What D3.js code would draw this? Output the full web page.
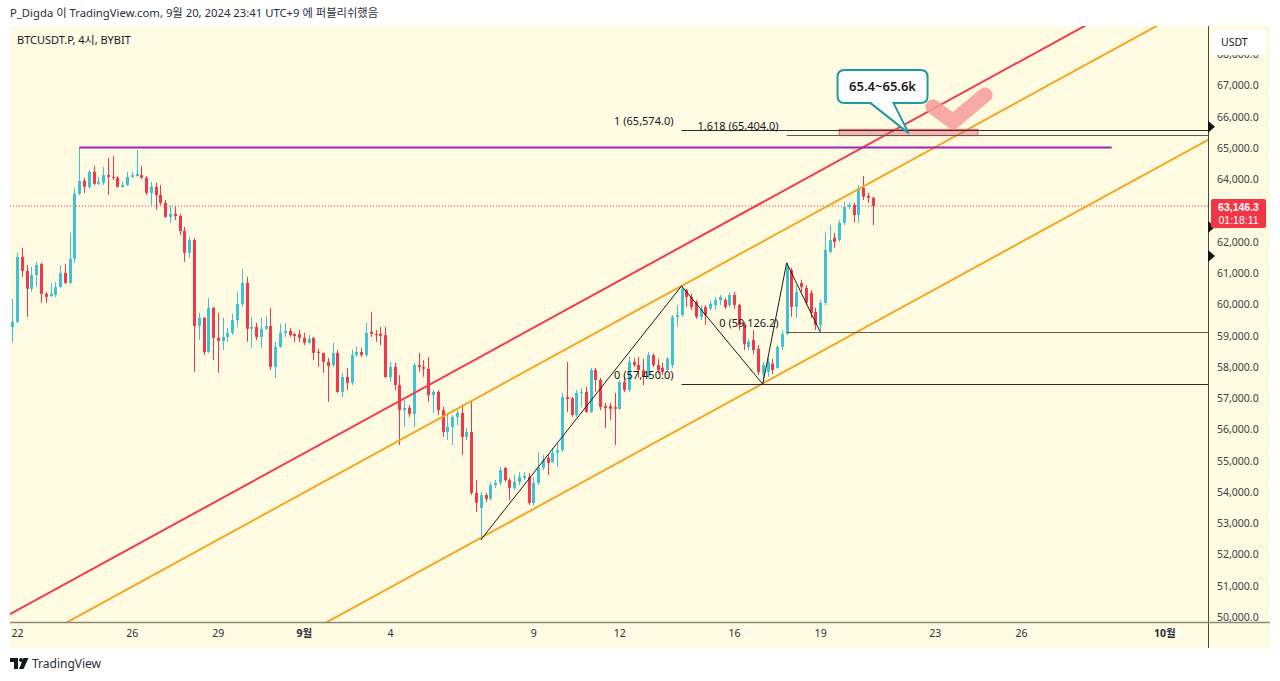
<!DOCTYPE html>
<html><head><meta charset="utf-8">
<script src="https://cdn.jsdelivr.net/npm/d3@7"></script>
<style>
html,body{margin:0;padding:0;background:#fff;}
svg{display:block;font-family:"Noto Sans","Noto Sans CJK KR",sans-serif;}
</style></head><body>
<svg id="c" width="1280" height="681"></svg>
<script>
// ---------- data ----------
const startTime = "2024-08-21T21:00:00Z"; // first 4h candle (KST shown as UTC)
const opens = [59280,59440,61520,61070,60500,60940,61290,60340,60270,60300,60560,61010,60690,61460,63540,63950,63760,64240,63860,63890,
64140,64080,64050,63760,63820,64080,64110,64140,64050,63570,63760,63500,63250,62800,62900,62830,62350,61650,62060,59310,
59570,58480,59890,58930,58830,58960,59090,59500,60020,60690,59220,59280,58960,59220,59310,58000,58640,59090,59150,59050,
59050,58930,58770,58930,58480,58450,58160,58060,58450,57200,57680,57490,58380,58480,58380,59120,59060,59050,59020,57680,
58000,57420,56620,56690,56500,58060,58000,57940,57100,57200,56620,55920,56080,56400,56530,55760,55920,53970,53490,53900,
53780,54220,54290,54770,54380,54130,54320,54450,54480,53650,54290,54770,55090,54960,55250,55340,57040,57000,56460,57170,
57200,56560,57900,57580,56750,56750,56720,56660,57520,57260,58160,58060,57900,57680,58380,58060,57970,57900,58060,59600,
59660,60460,60240,60080,59600,59920,59860,59980,60140,60140,59980,60300,59980,59380,58640,58860,58580,57780,57840,58100,
57970,58640,59060,61100,59920,60690,60530,60370,59760,59340,60050,61680,62130,62060,62610,63120,63180,62860,63730,63470,63410];
const highs = [60180,61650,61810,61260,61200,61360,61330,60400,60690,60720,61260,61300,62290,63730,65020,64050,64300,64430,64080,64400,
64690,64750,64110,63920,64240,64240,64940,64430,64110,63920,63890,63820,63340,63150,63120,62900,62480,62160,62130,59730,
59600,60210,59920,59730,59570,59250,59700,60400,61140,60880,59600,59410,59570,59630,59890,58800,59380,59410,59250,59090,
59180,59090,59020,58960,58580,58450,58290,58770,58540,57810,57970,58540,58640,58610,59410,59760,59180,59280,59280,58160,
58130,57740,56940,56780,58130,58450,58220,58320,57260,57260,56720,56460,56460,56620,56720,56050,56880,54380,54000,53970,
54320,54380,54800,54800,54450,54540,54640,54640,54610,54480,55280,55180,55180,55410,55570,57170,58160,57040,57260,57330,
57360,57970,57970,57650,56850,56850,57170,57580,57680,58320,58290,58320,58260,58480,58420,58260,58130,58320,59660,59980,
60590,60500,60340,60140,59980,59980,60110,60240,60300,60210,60370,60400,60020,59440,58900,59180,58700,58160,58290,58260,
58700,59180,61330,61170,60620,60780,60620,60460,59890,60140,62290,62540,62290,62700,63280,63250,63250,63820,64110,63570,63440];
const lows = [58770,59410,60880,59600,60400,60560,60050,60050,60240,60240,60530,60660,60660,61330,63500,63570,63700,63820,63820,63820,
63500,63980,63730,63730,63790,64050,64080,64020,63500,63180,63020,63180,62770,62610,62700,62220,61360,61490,57840,58860,
58380,58450,58220,57810,58540,58800,59020,59280,59920,58800,58610,58860,58610,59180,57900,57650,58610,58960,58960,58800,
58800,58700,58740,58220,58000,57810,56880,58000,57170,57040,57260,57420,58320,58320,58320,58960,58800,58700,57650,57520,
57260,55500,56080,56400,56080,57840,57680,56880,56530,56460,55760,55660,55500,56140,55180,55660,53900,53360,52470,53680,
53740,54130,54220,54320,53740,54060,54220,54380,53580,53580,54220,54700,54540,54930,54800,55280,56560,56400,56400,56720,
56530,56530,57200,56620,56050,56300,55500,56620,57200,57200,58000,57650,57420,57650,58000,57780,57740,57840,57970,59280,
59600,59920,59820,59540,59500,59340,59820,59820,59980,59860,59920,59860,59180,58540,58540,58420,57740,57450,57680,57780,
57940,58540,59020,59600,59570,60400,59980,59570,59180,59126,59980,61650,61810,62000,62540,63060,62610,62610,63340,63250,62540];
const closes = [59440,61520,61070,60500,60940,61260,60340,60240,60340,60560,61010,60690,61460,63540,63950,63760,64240,63860,63920,64140,
64080,64050,63760,63820,64080,64140,64180,64050,63570,63760,63500,63250,62800,62900,62830,62350,61650,62060,59310,59570,
58480,59890,58930,58830,58960,59090,59500,60020,60690,59220,59280,58960,59220,59310,58000,58640,59090,59150,59020,58990,
58930,58770,58900,58450,58450,58160,58030,58450,57200,57680,57490,58380,58480,58380,59090,59060,59020,58990,57680,58000,
57420,56620,56690,56500,58060,58000,57940,57100,57200,56620,55920,56080,56400,56530,55760,55920,53970,53650,53900,53780,
54220,54290,54700,54380,54130,54320,54480,54510,53650,54290,54770,55020,54930,55250,55340,57040,56980,56460,57170,57200,
56560,57900,57580,56720,56690,56660,56660,57520,57260,58160,58060,57900,57680,58380,58060,57900,57840,58260,59600,59660,
60500,60240,59920,59600,59860,59660,60020,60140,60240,59920,60300,59980,59340,58740,58800,58540,57840,58060,58160,57900,
58640,59060,61200,59920,60400,60560,60050,59730,59340,60050,61740,62060,62000,62610,63120,63180,62860,63730,63440,63410,63146.3];

const lastPrice = 63146.3;
const countdown = "01:18:11";
const priceTicks = d3.range(50000, 68001, 1000);
const xTickDates = ["2024-08-22","2024-08-26","2024-08-29","2024-09-01","2024-09-04","2024-09-09","2024-09-12","2024-09-16","2024-09-19","2024-09-23","2024-09-26","2024-10-01"];
const xTickLabels = ["22","26","29","9월","4","9","12","16","19","23","26","10월"];
const boldTicks = ["9월","10월"];

// drawings, as [candle index, price]
const redLine = [[0, 50130], [180, 65196]];
const orangeUpper = [[98, 57075], [140, 60590]];
const orangeLower = [[98, 52530], [157, 57468]];
const purpleLine = [[14, 65020], [230, 65020]];
const fib1 = [[98, 52466], [140, 60590], [157, 57450]];
const fib1Levels = [[0, "0 (57,450.0)"], [1, "1 (65,574.0)"]];
const fib2 = [[157, 57450], [162, 61330], [169, 59126.2]];
const fib2Levels = [[0, "0 (59,126.2)"], [1.618, "1.618 (65,404.0)"]];
const targetBox = [[173, 65400], [202, 65600]];
const calloutTip = [187.5, 65480];
const calloutText = "65.4~65.6k";
const checkMark = [[192.6, 66320], [196.8, 65840], [203.5, 66700]];
const scaleMarks = [65680, 62480, 61550];

const headerText = "P_Digda 이 TradingView.com, 9월 20, 2024 23:41 UTC+9 에 퍼블리쉬했음";
const symbolText = "BTCUSDT.P, 4시, BYBIT";

// ---------- layout ----------
const pane = {x0: 10, y0: 26, x1: 1208, y1: 622};
const H4 = 4 * 3600 * 1000;
const t0 = new Date(startTime);
const tAt = i => new Date(t0.getTime() + i * H4);
const n = closes.length;

const x = d3.scaleUtc().domain([tAt(0), tAt(n - 1)]).range([12.3, 872.7]);
const y = d3.scaleLinear().domain([50000, 67000]).range([617, 85.6]);
const X = i => x(tAt(i));

const svg = d3.select("#c");
const UP = "#3ec3d5", DOWN = "#f03a4b";

// backgrounds
svg.append("rect").attr("x", 0).attr("y", 0).attr("width", 1280).attr("height", 681).attr("fill", "#fff");
svg.append("rect").attr("x", pane.x0).attr("y", pane.y0).attr("width", 1270 - pane.x0).attr("height", 648 - pane.y0).attr("fill", "#fffbe2");

svg.append("defs").append("clipPath").attr("id", "pc")
  .append("rect").attr("x", pane.x0).attr("y", pane.y0).attr("width", pane.x1 - pane.x0).attr("height", pane.y1 - pane.y0);

// header
svg.append("text").attr("x", 10).attr("y", 17).attr("font-size", 11.3).attr("fill", "#2a2e39").text(headerText);

const g = svg.append("g").attr("clip-path", "url(#pc)");

// last price dotted line
g.append("line").attr("x1", pane.x0).attr("x2", pane.x1).attr("y1", y(lastPrice)).attr("y2", y(lastPrice))
  .attr("stroke", DOWN).attr("stroke-width", 1).attr("stroke-dasharray", "1,2");

// candles
const idx = d3.range(n);
const cg = g.append("g");
cg.selectAll("line.w").data(idx).join("line")
  .attr("x1", i => Math.round(X(i)) + 0.5).attr("x2", i => Math.round(X(i)) + 0.5)
  .attr("y1", i => y(highs[i])).attr("y2", i => y(lows[i]))
  .attr("stroke", i => closes[i] >= opens[i] ? UP : DOWN).attr("stroke-width", 1);
cg.selectAll("rect.b").data(idx).join("rect")
  .attr("x", i => Math.round(X(i)) - 1).attr("width", 3)
  .attr("y", i => y(Math.max(opens[i], closes[i])))
  .attr("height", i => Math.max(1, Math.abs(y(opens[i]) - y(closes[i]))))
  .attr("fill", i => closes[i] >= opens[i] ? UP : DOWN);

// extended trend lines
function extLine(pts, color, w) {
  const [[i1, p1], [i2, p2]] = pts;
  const s = (p2 - p1) / (i2 - i1);
  const a = -40, b = 320;
  g.append("line").attr("x1", X(a)).attr("y1", y(p1 + (a - i1) * s))
    .attr("x2", X(b)).attr("y2", y(p1 + (b - i1) * s))
    .attr("stroke", color).attr("stroke-width", w);
}
extLine(redLine, "#ee3d4e", 2);
extLine(orangeUpper, "#f5a623", 2);
extLine(orangeLower, "#f5a623", 2);

// purple horizontal
g.append("line").attr("x1", X(purpleLine[0][0])).attr("x2", X(purpleLine[1][0]))
  .attr("y1", y(purpleLine[0][1])).attr("y2", y(purpleLine[1][1]))
  .attr("stroke", "#9c27b0").attr("stroke-width", 2);

// target box
g.append("rect").attr("x", X(targetBox[0][0])).attr("y", y(targetBox[1][1]))
  .attr("width", X(targetBox[1][0]) - X(targetBox[0][0]))
  .attr("height", y(targetBox[0][1]) - y(targetBox[1][1]))
  .attr("fill", "rgba(242,80,95,0.42)").attr("stroke", "#e4606c").attr("stroke-width", 1);

// fib extensions
function fib(pts, levels, color) {
  const line = d3.line().x(d => X(d[0])).y(d => y(d[1]));
  g.append("path").attr("d", line(pts)).attr("fill", "none").attr("stroke", "#1b1b1b").attr("stroke-width", 1);
  const diff = pts[1][1] - pts[0][1];
  const xs = X(pts[1][0]);
  levels.forEach(([lv, label]) => {
    const yy = Math.round(y(pts[2][1] + lv * diff)) + 0.5;
    g.append("line").attr("x1", xs).attr("x2", pane.x1).attr("y1", yy).attr("y2", yy)
      .attr("stroke", color).attr("stroke-width", 1);
    g.append("text").attr("x", xs - 8).attr("y", yy - 6).attr("text-anchor", "end")
      .attr("font-size", 11).attr("fill", "#131722").text(label);
  });
}
fib(fib1, fib1Levels, "#2b2b2b");
fib(fib2, fib2Levels, "#5a5a50");

// check mark
g.append("path").attr("d", d3.line().x(d => X(d[0])).y(d => y(d[1]))(checkMark))
  .attr("fill", "none").attr("stroke", "#f59a9a").attr("stroke-opacity", 0.85)
  .attr("stroke-width", 15).attr("stroke-linecap", "round").attr("stroke-linejoin", "round");

// callout
{
  const tx = X(calloutTip[0]), ty = y(calloutTip[1]);
  const L = tx - 71, R = tx + 19, T = ty - 63, B = ty - 30, r = 7;
  const tl = tx - 38, tr = tx - 15;
  const d = `M${L + r},${T} H${R - r} Q${R},${T} ${R},${T + r} V${B - r} Q${R},${B} ${R - r},${B} H${tr} L${tx},${ty} L${tl},${B} H${L + r} Q${L},${B} ${L},${B - r} V${T + r} Q${L},${T} ${L + r},${T} Z`;
  g.append("path").attr("d", d).attr("fill", "#fff").attr("stroke", "#1f9aa3").attr("stroke-width", 2);
  g.append("text").attr("x", (L + R) / 2).attr("y", (T + B) / 2 + 4.5).attr("text-anchor", "middle")
    .attr("font-size", 13).attr("font-weight", 600).attr("fill", "#1a1a1a").text(calloutText);
}

// symbol label
svg.append("text").attr("x", 17).attr("y", 44).attr("font-size", 11).attr("fill", "#131722").text(symbolText);

// pane borders
svg.append("line").attr("x1", pane.x1 + 0.5).attr("x2", pane.x1 + 0.5).attr("y1", pane.y0).attr("y2", 648)
  .attr("stroke", "#4a4a40").attr("stroke-width", 1);
svg.append("line").attr("x1", pane.x0).attr("x2", 1270).attr("y1", pane.y1 + 0.5).attr("y2", pane.y1 + 0.5)
  .attr("stroke", "#8a8a78").attr("stroke-width", 1.5);

// price axis (the tick hidden behind the last-price label is not shown, as in the original)
const visibleTicks = priceTicks.filter(p => Math.abs(y(p) - (y(lastPrice) + 7.5)) > 16);
const ya = svg.append("g").attr("transform", `translate(${pane.x1 + 1},0)`)
  .call(d3.axisRight(y).tickValues(visibleTicks).tickFormat(d3.format(",.1f")).tickSize(0).tickPadding(8));
ya.select(".domain").remove();
ya.selectAll("text").attr("font-size", 10.5).attr("fill", "#3a3e48").attr("font-family", "'Noto Sans',sans-serif");

// scale marks
scaleMarks.forEach(p => {
  const yy = y(p);
  svg.append("path").attr("d", `M${pane.x1},${yy - 6} L${pane.x1 + 7},${yy} L${pane.x1},${yy + 6} Z`).attr("fill", "#131313");
});

// last price label
{
  const yy = y(lastPrice);
  svg.append("rect").attr("x", 1211).attr("y", yy - 7).attr("width", 55).attr("height", 29).attr("rx", 2).attr("fill", "#f23645");
  svg.append("text").attr("x", 1238.5).attr("y", yy + 4.5).attr("text-anchor", "middle").attr("font-size", 10.5)
    .attr("font-family", "'Liberation Sans',sans-serif").attr("font-weight", 700).attr("fill", "#fff").text(d3.format(",.1f")(lastPrice));
  svg.append("text").attr("x", 1238.5).attr("y", yy + 17.5).attr("text-anchor", "middle").attr("font-size", 10.5)
    .attr("font-family", "'Liberation Sans',sans-serif").attr("fill", "#fff").text(countdown);
}

// USDT box
svg.append("rect").attr("x", 1212).attr("y", 30).attr("width", 54).attr("height", 25).attr("rx", 4).attr("fill", "#fff");
svg.append("text").attr("x", 1221).attr("y", 46).attr("font-size", 10.5).attr("fill", "#131722").text("USDT");

// time axis
const tickTimes = xTickDates.map(d => new Date(d + "T01:00:00Z"));
const xa = svg.append("g").attr("transform", `translate(0,${pane.y1})`)
  .call(d3.axisBottom(x).tickValues(tickTimes).tickSize(0).tickPadding(8)
    .tickFormat((d, i) => xTickLabels[i]));
xa.select(".domain").remove();
xa.selectAll("text").attr("font-size", 10.5).attr("fill", "#2a2e39").attr("font-family", "'Noto Sans','Noto Sans CJK KR',sans-serif")
  .attr("font-weight", (d, i) => boldTicks.includes(xTickLabels[i]) ? 700 : 400);

// TradingView logo
const lg = svg.append("g").attr("fill", "#131722");
lg.append("path").attr("d", "M10,658 h8 v11 h-4 v-7 h-4 Z");
lg.append("circle").attr("cx", 21).attr("cy", 660).attr("r", 2);
lg.append("path").attr("d", "M23.5,658 h5 l-5,11 h-4.5 Z");
svg.append("text").attr("x", 32).attr("y", 668).attr("font-size", 12).attr("fill", "#2a2e39").text("TradingView");
</script>
</body></html>
